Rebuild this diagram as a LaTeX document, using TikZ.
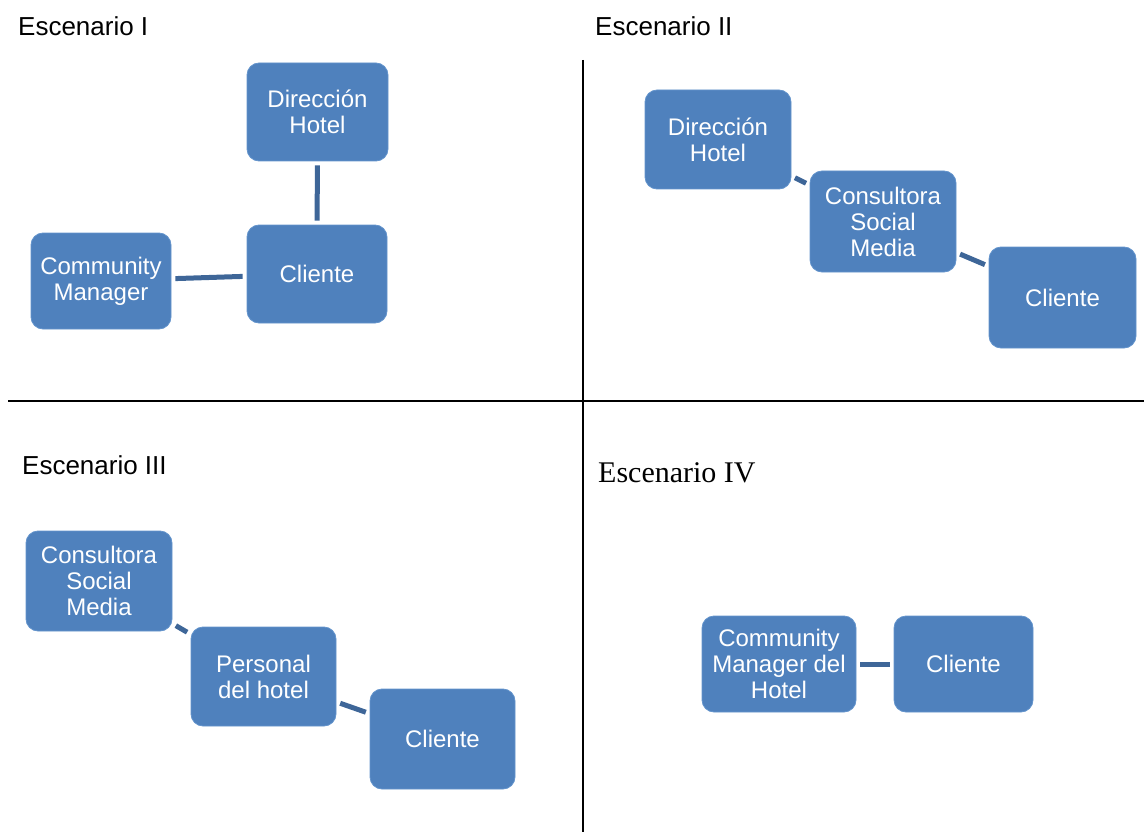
\documentclass[tikz,border=0pt]{standalone}
\usepackage{fontspec}
\setmainfont{Liberation Sans}
\newfontfamily\serifIV{Liberation Serif}
\definecolor{boxfill}{RGB}{79,129,189}
\definecolor{boxedge}{RGB}{100,148,204}
\definecolor{linkcol}{RGB}{62,102,152}
\begin{document}
\begin{tikzpicture}[x=1pt,y=-1pt,
  box/.style={draw=boxedge, fill=boxfill, rounded corners=12pt, line width=0.8pt,
    text=white, font=\fontsize{24}{26}\selectfont, align=center, inner sep=0pt},
  link/.style={draw=linkcol, line width=5pt, shorten >=4pt, shorten <=4pt},
  title/.style={anchor=base west, font=\fontsize{26}{30}\selectfont, inner sep=0pt},
  divider/.style={draw=black, line width=1.6pt}]
\useasboundingbox (0,0) rectangle (1144,832);
% dividers
\coordinate (vtop) at (583,60);
\coordinate (vbot) at (583,832);
\coordinate (hl) at (8,401);
\coordinate (hr) at (1144,401);
\draw[divider] (vtop) -- (vbot);
\draw[divider] (hl) -- (hr);
% titles
\node[title] (t1) at (18,36) {Escenario I};
\node[title] (t2) at (595,36) {Escenario II};
\node[title] (t3) at (22,474) {Escenario III};
\node[title, font=\serifIV\fontsize{30}{34}\selectfont] (t4) at (598,482) {Escenario IV};
% Escenario I
\node[box, minimum width=141pt, minimum height=98pt] (dh1) at (317.5,112) {Dirección\\Hotel};
\node[box, minimum width=140pt, minimum height=98pt] (cl1) at (317,274) {Cliente};
\node[box, minimum width=140pt, minimum height=96pt] (cm1) at (101,281) {Community\\Manager};
\draw[link] (dh1) -- (cl1);
\draw[link] (cm1) -- (cl1);
% Escenario II
\node[box, minimum width=146pt, minimum height=99pt] (dh2) at (718,139.5) {Dirección\\Hotel};
\node[box, minimum width=146pt, minimum height=101pt] (cs2) at (883,221.5) {Consultora\\Social\\Media};
\node[box, minimum width=147pt, minimum height=101pt] (cl2) at (1062.5,297.5) {Cliente};
\draw[link] (dh2) -- (cs2);
\draw[link] (cs2) -- (cl2);
% Escenario III
\node[box, minimum width=146pt, minimum height=100pt] (cs3) at (99,581) {Consultora\\Social\\Media};
\node[box, minimum width=145pt, minimum height=99pt] (ph3) at (263.5,676.5) {Personal\\del hotel};
\node[box, minimum width=145pt, minimum height=100pt] (cl3) at (442.5,739) {Cliente};
\draw[link] (cs3) -- (ph3);
\draw[link] (ph3) -- (cl3);
% Escenario IV
\node[box, minimum width=154pt, minimum height=96pt] (cm4) at (779,664) {Community\\Manager del\\Hotel};
\node[box, minimum width=139pt, minimum height=96pt] (cl4) at (963.5,664) {Cliente};
\draw[link] (cm4) -- (cl4);
\end{tikzpicture}
\end{document}
